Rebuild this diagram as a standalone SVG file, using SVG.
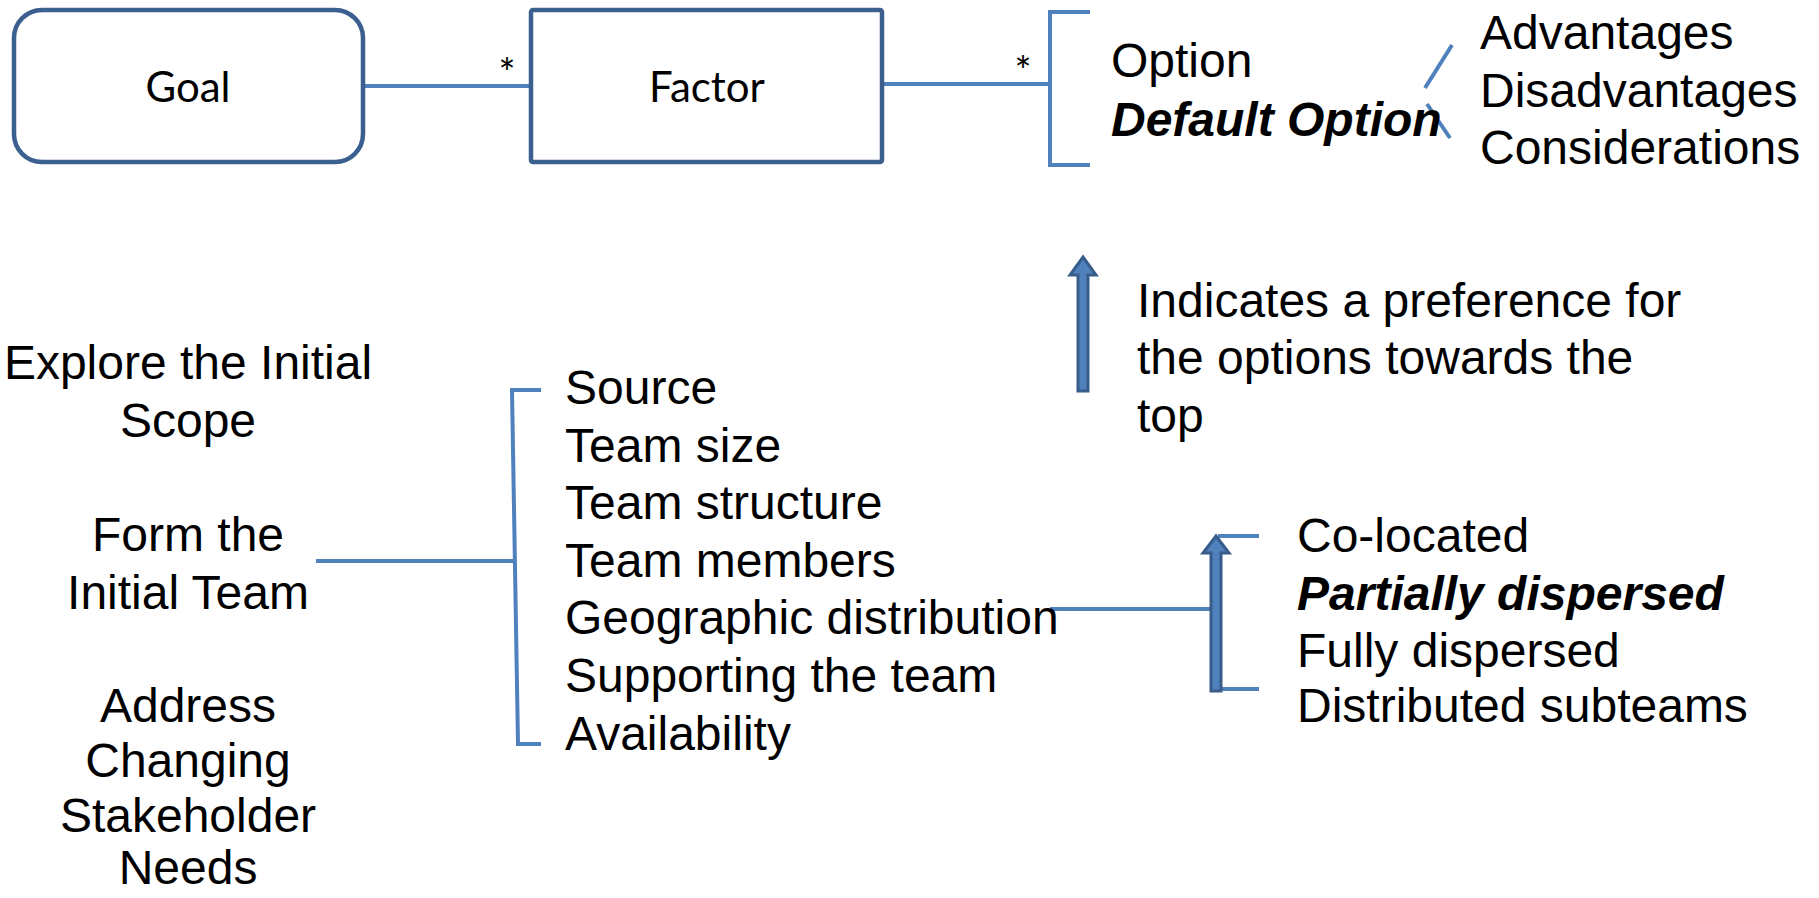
<svg xmlns="http://www.w3.org/2000/svg" width="1819" height="898" viewBox="0 0 1819 898">
<style>
.box{fill:#fff;stroke:#3B5F8E;stroke-width:4.5}
.ln{fill:none;stroke:#4F81BD;stroke-width:4}
.arr{fill:#4F81BD;stroke:#385D8A;stroke-width:3}
.cal{font-family:Lato,"Open Sans",sans-serif;font-size:42px;fill:#000}
.t{font-family:"Liberation Sans",Arial,sans-serif;font-size:48px;fill:#000}
.bi{font-weight:bold;font-style:italic}
.mid{text-anchor:middle}
.star{font-family:Lato,sans-serif;font-size:40px;fill:#000}
</style>
<rect width="1819" height="898" fill="#fff"/>
<g id="connectors">
<line class="ln" x1="363" y1="86" x2="531" y2="86"/>
<line class="ln" x1="882" y1="84" x2="1050" y2="84"/>
<polyline class="ln" points="1090,12 1050,12 1050,165 1090,165"/>
<line class="ln" x1="1452" y1="45" x2="1425" y2="88"/>
<line class="ln" x1="1427" y1="104" x2="1450" y2="138"/>
<line class="ln" x1="316" y1="561" x2="514" y2="561"/>
<polyline class="ln" points="541,390 512,390 518,744 541,744"/>
<line class="ln" x1="1050" y1="609" x2="1214" y2="609"/>
<line class="ln" x1="1218" y1="536" x2="1259" y2="536"/>
<line class="ln" x1="1218" y1="689" x2="1259" y2="689"/>
<text class="star mid" x="507" y="88">*</text>
<text class="star mid" x="1023" y="86">*</text>
</g>
<g id="goal">
<rect class="box" x="14" y="10" width="349" height="152" rx="28"/>
<text class="cal mid" x="188" y="102">Goal</text>
</g>
<g id="factor">
<rect class="box" x="531" y="10" width="351" height="152" rx="2"/>
<text class="cal mid" x="707" y="102">Factor</text>
</g>
<g id="options">
<text class="t" x="1111" y="77">Option</text>
<text class="t bi" x="1111" y="136">Default Option</text>
</g>
<g id="aspects">
<text class="t" x="1480" y="49">Advantages</text>
<text class="t" x="1480" y="107">Disadvantages</text>
<text class="t" x="1480" y="164">Considerations</text>
</g>
<g id="preference-arrow">
<polygon class="arr" points="1083,257 1096,275 1088,275 1088,391 1078,391 1078,275 1070,275"/>
<text class="t" x="1137" y="317">Indicates a preference for</text>
<text class="t" x="1137" y="374">the options towards the</text>
<text class="t" x="1137" y="432">top</text>
</g>
<g id="goals">
<text class="t mid" x="188" y="379">Explore the Initial</text>
<text class="t mid" x="188" y="437">Scope</text>
<text class="t mid" x="188" y="551">Form the</text>
<text class="t mid" x="188" y="609">Initial Team</text>
<text class="t mid" x="188" y="722">Address</text>
<text class="t mid" x="188" y="777">Changing</text>
<text class="t mid" x="188" y="832">Stakeholder</text>
<text class="t mid" x="188" y="884">Needs</text>
</g>
<g id="factors">
<text class="t" x="565" y="404">Source</text>
<text class="t" x="565" y="462">Team size</text>
<text class="t" x="565" y="519">Team structure</text>
<text class="t" x="565" y="577">Team members</text>
<text class="t" x="565" y="634">Geographic distribution</text>
<text class="t" x="565" y="692">Supporting the team</text>
<text class="t" x="565" y="750">Availability</text>
</g>
<g id="distribution-options">
<polygon class="arr" points="1216,536 1229,553 1221,553 1221,691 1211,691 1211,553 1203,553"/>
<text class="t" x="1297" y="552">Co-located</text>
<text class="t bi" x="1297" y="610">Partially dispersed</text>
<text class="t" x="1297" y="667">Fully dispersed</text>
<text class="t" x="1297" y="722">Distributed subteams</text>
</g>
</svg>
